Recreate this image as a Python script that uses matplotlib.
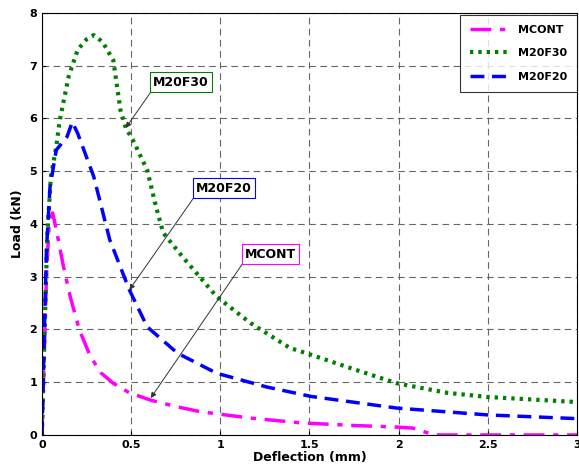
import numpy as np
import matplotlib.pyplot as plt

# data
x_mcont = [0, 0.01, 0.025, 0.04, 0.06, 0.08, 0.12, 0.16, 0.21, 0.27, 0.33, 0.4, 0.49, 0.61, 0.75, 0.89, 1.17, 1.45, 1.75, 1.99, 2.08, 2.2, 2.5, 3.0]
y_mcont = [0, 1.2, 3.0, 4.0, 4.21, 3.9, 3.2, 2.6, 1.99, 1.5, 1.18, 0.98, 0.80, 0.66, 0.54, 0.44, 0.32, 0.23, 0.18, 0.15, 0.13, 0.0, 0.0, 0.0]

x_m20f30 = [0, 0.015, 0.03, 0.05, 0.08, 0.1, 0.15, 0.2, 0.25, 0.29, 0.34, 0.4, 0.44, 0.47, 0.51, 0.59, 0.64, 0.68, 0.79, 0.98, 1.17, 1.39, 1.51, 1.71, 1.99, 2.27, 2.5, 2.97, 3.0]
y_m20f30 = [0, 2.0, 3.8, 4.9, 5.46, 5.97, 6.8, 7.3, 7.5, 7.58, 7.45, 7.1, 6.16, 5.82, 5.59, 5.02, 4.32, 3.83, 3.37, 2.62, 2.12, 1.65, 1.52, 1.29, 0.98, 0.80, 0.72, 0.63, 0.62]

x_m20f20 = [0, 0.01, 0.025, 0.045, 0.08, 0.14, 0.17, 0.2, 0.29, 0.38, 0.49, 0.59, 0.76, 0.98, 1.26, 1.51, 1.99, 2.5, 3.0]
y_m20f20 = [0, 1.5, 3.5, 4.7, 5.4, 5.65, 5.93, 5.72, 4.9, 3.7, 2.75, 2.05, 1.55, 1.17, 0.91, 0.73, 0.51, 0.38, 0.31]

labels = ['MCONT', 'M20F30', 'M20F20']

# annotation text position and arrow tip (data units)
ann_text = [(1.28, 3.43), (0.78, 6.69), (1.02, 4.68)]
ann_tip = [(0.61, 0.70), (0.47, 5.82), (0.49, 2.75)]
ann_color = ['#ff00ff', '#007f00', '#0000ff']

fig = plt.figure(figsize=(5.79, 4.70), dpi=100)
ax = fig.add_axes([0.0725, 0.0745, 0.924, 0.898])

ax.plot(x_mcont, y_mcont, color='#ff00ff', linestyle='-.', linewidth=2.5, label=labels[0],
        dashes=(6, 2.5, 1.5, 2.5))
ax.plot(x_m20f30, y_m20f30, color='#007f00', linestyle=':', linewidth=3, label=labels[1],
        dashes=(0.8, 1.2))
ax.plot(x_m20f20, y_m20f20, color='#0000ff', linestyle='--', linewidth=2.5, label=labels[2],
        dashes=(4, 2.2))

for i in range(3):
    ax.annotate(labels[i], xy=ann_tip[i], xytext=ann_text[i],
                fontsize=9, fontweight='bold', ha='center', va='center',
                bbox=dict(boxstyle='square,pad=0.25', fc='white', ec=ann_color[i], lw=0.8),
                arrowprops=dict(arrowstyle='-|>', color='#333333', lw=0.7, mutation_scale=8,
                                shrinkA=0, shrinkB=0, relpos=(0.0, 0.0)))

ax.set_xlim(0, 3)
ax.set_ylim(0, 8)
ax.set_xticks(np.arange(0, 3.01, 0.5))
ax.set_xticklabels(['0', '0.5', '1', '1.5', '2', '2.5', '3'])
ax.set_yticks(range(0, 9))
ax.tick_params(labelsize=8, direction='in', length=3)
for t in ax.get_xticklabels() + ax.get_yticklabels():
    t.set_fontweight('bold')
ax.grid(True, linestyle=(0, (6, 4)), color='#666666', linewidth=0.8)
ax.set_xlabel('Deflection (mm)', fontsize=9, fontweight='bold', labelpad=1)
ax.set_ylabel('Load (kN)', fontsize=9, fontweight='bold', labelpad=4)

leg = ax.legend(loc='upper right', bbox_to_anchor=(1.0, 0.995), borderaxespad=0,
                frameon=True, fancybox=False, edgecolor='black', handlelength=3.4,
                borderpad=0.9, labelspacing=1.2, handletextpad=0.9,
                prop={'weight': 'bold', 'size': 8})
leg.get_frame().set_linewidth(0.8)

plt.savefig('out.png', dpi=100)
